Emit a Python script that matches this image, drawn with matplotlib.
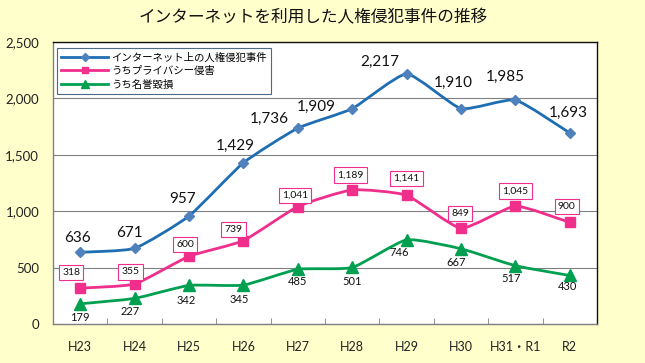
import matplotlib
matplotlib.use("Agg")
import matplotlib.pyplot as plt
from matplotlib.path import Path
from matplotlib.patches import PathPatch
from matplotlib.lines import Line2D
from matplotlib.ticker import FuncFormatter, MultipleLocator
import numpy as np

plt.rcParams['font.family'] = ['Noto Sans CJK JP', 'DejaVu Sans']

title = "インターネットを利用した人権侵犯事件の推移"
categories = ["H23", "H24", "H25", "H26", "H27", "H28", "H29", "H30", "H31・R1", "R2"]
series_names = ["インターネット上の人権侵犯事件", "うちプライバシー侵害", "うち名誉毀損"]
total = [636, 671, 957, 1429, 1736, 1909, 2217, 1910, 1985, 1693]
privacy = [318, 355, 600, 739, 1041, 1189, 1141, 849, 1045, 900]
defamation = [179, 227, 342, 345, 485, 501, 746, 667, 517, 430]

# label offsets in pixels (dx, dy)
blue_off = [(-3, 14), (-5, 15), (-6, 17), (-8, 17), (-29, 9), (-36, 2), (-27, 12), (-8, 26), (-10, 23), (-2, 20)]
pink_off = [(-9, 16), (-4, 12), (-4, 12), (-10, 11), (-3, 11), (-2, 15), (0, 17), (-1, 15), (0, 15), (-3, 16)]
green_off = [(0, -14), (-4, -13), (-3, -15), (-4, -14), (0, -12), (0, -14), (-7, -13), (-5, -14), (-4, -13), (-2, -11)]

BG = "#FFFFCC"
C_BLUE = "#1F6DB3"
C_BLUE_M = "#4F81BD"
C_PINK = "#F02E8C"
C_GREEN = "#00A050"

fig = plt.figure(figsize=(6.45, 3.63), dpi=100)
fig.patch.set_facecolor(BG)
ax = fig.add_axes([53/645, 1-324/363, 544/645, 282/363])
ax.set_facecolor("white")

x = np.arange(len(categories)) + 0.5

def smooth_path(xs, ys, k=12.0):
    pts = np.column_stack([xs, ys]).astype(float)
    n = len(pts)
    verts = [pts[0]]
    codes = [Path.MOVETO]
    for i in range(n - 1):
        p0 = pts[i - 1] if i > 0 else pts[i]
        p1 = pts[i]
        p2 = pts[i + 1]
        p3 = pts[i + 2] if i + 2 < n else pts[i + 1]
        c1 = p1 + (p2 - p0) / k
        c2 = p2 - (p3 - p1) / k
        verts += [c1, c2, p2]
        codes += [Path.CURVE4] * 3
    return Path(verts, codes)

specs = [
    (total, C_BLUE, C_BLUE_M, "D", 5.5),
    (privacy, C_PINK, C_PINK, "s", 7),
    (defamation, C_GREEN, C_GREEN, "^", 8),
]
for vals, col, mcol, mk, ms in specs:
    p = PathPatch(smooth_path(x, vals), facecolor="none", edgecolor=col, lw=2.0, zorder=3, capstyle="round", joinstyle="round")
    ax.add_patch(p)
    ax.plot(x, vals, linestyle="none", marker=mk, ms=ms, color=mcol, mec=mcol, zorder=4)

def fmt(v):
    return f"{v:,}"

num_font = ['Lato', 'Noto Sans CJK JP', 'DejaVu Sans']
for xi, v, (dx, dy) in zip(x, total, blue_off):
    ax.annotate(fmt(v), (xi, v), xytext=(dx * 0.72, dy * 0.72), textcoords="offset points",
                ha="center", va="center", fontsize=11, family=num_font, color="#111111", zorder=5)
for xi, v, (dx, dy) in zip(x, privacy, pink_off):
    ax.annotate(fmt(v), (xi, v), xytext=(dx * 0.72, dy * 0.72), textcoords="offset points",
                ha="center", va="center", fontsize=7.5, family=num_font, color="#111111", zorder=5,
                bbox=dict(boxstyle="square,pad=0.3", fc="white", ec=C_PINK, lw=0.8))
for xi, v, (dx, dy) in zip(x, defamation, green_off):
    ax.annotate(fmt(v), (xi, v), xytext=(dx * 0.72, dy * 0.72), textcoords="offset points",
                ha="center", va="center", fontsize=8, family=num_font, color="#111111", zorder=5)

ax.set_xlim(0, len(categories))
ax.set_ylim(0, 2500)
ax.yaxis.set_major_locator(MultipleLocator(500))
ax.yaxis.set_major_formatter(FuncFormatter(lambda v, p: f"{int(v):,}"))
ax.grid(axis="y", color="#808080", lw=0.8)
ax.set_axisbelow(True)
ax.set_xticks(x)
ax.set_xticklabels(categories)
ax.set_xticks(np.arange(len(categories) + 1), minor=True)
ax.tick_params(axis="x", which="major", length=0, pad=12, labelsize=9, labelcolor="#222222")
ax.tick_params(axis="x", which="minor", length=4, direction="in", color="#808080")
ax.tick_params(axis="y", length=0, pad=10, labelsize=9.5, labelcolor="#222222")
for lab in ax.get_xticklabels() + ax.get_yticklabels():
    lab.set_family(num_font)
for s in ("top", "right"):
    ax.spines[s].set_color("#111111")
    ax.spines[s].set_linewidth(1.0)
for s in ("left", "bottom"):
    ax.spines[s].set_color("#808080")
    ax.spines[s].set_linewidth(1.0)

handles = [Line2D([], [], color=c, marker=m, ms=ms * 0.7, mfc=mc, mec=mc, lw=2) for _, c, mc, m, ms in specs]
leg = ax.legend(handles, series_names, loc="upper left", bbox_to_anchor=(4/544, 1 - 6/282),
                fontsize=7.5, frameon=True, fancybox=False, handlelength=4.5, handletextpad=0.3,
                labelspacing=0.35, borderpad=0.4, borderaxespad=0, markerfirst=True)
leg.get_frame().set_edgecolor("#4A6A8A")
leg.get_frame().set_linewidth(0.8)
leg.get_frame().set_facecolor("white")
leg.get_frame().set_alpha(1)

fig.text(313/645, 1 - 18/363, title, ha="center", va="center", fontsize=12, color="#111111")

fig.savefig("out.png", dpi=100, facecolor=BG)
